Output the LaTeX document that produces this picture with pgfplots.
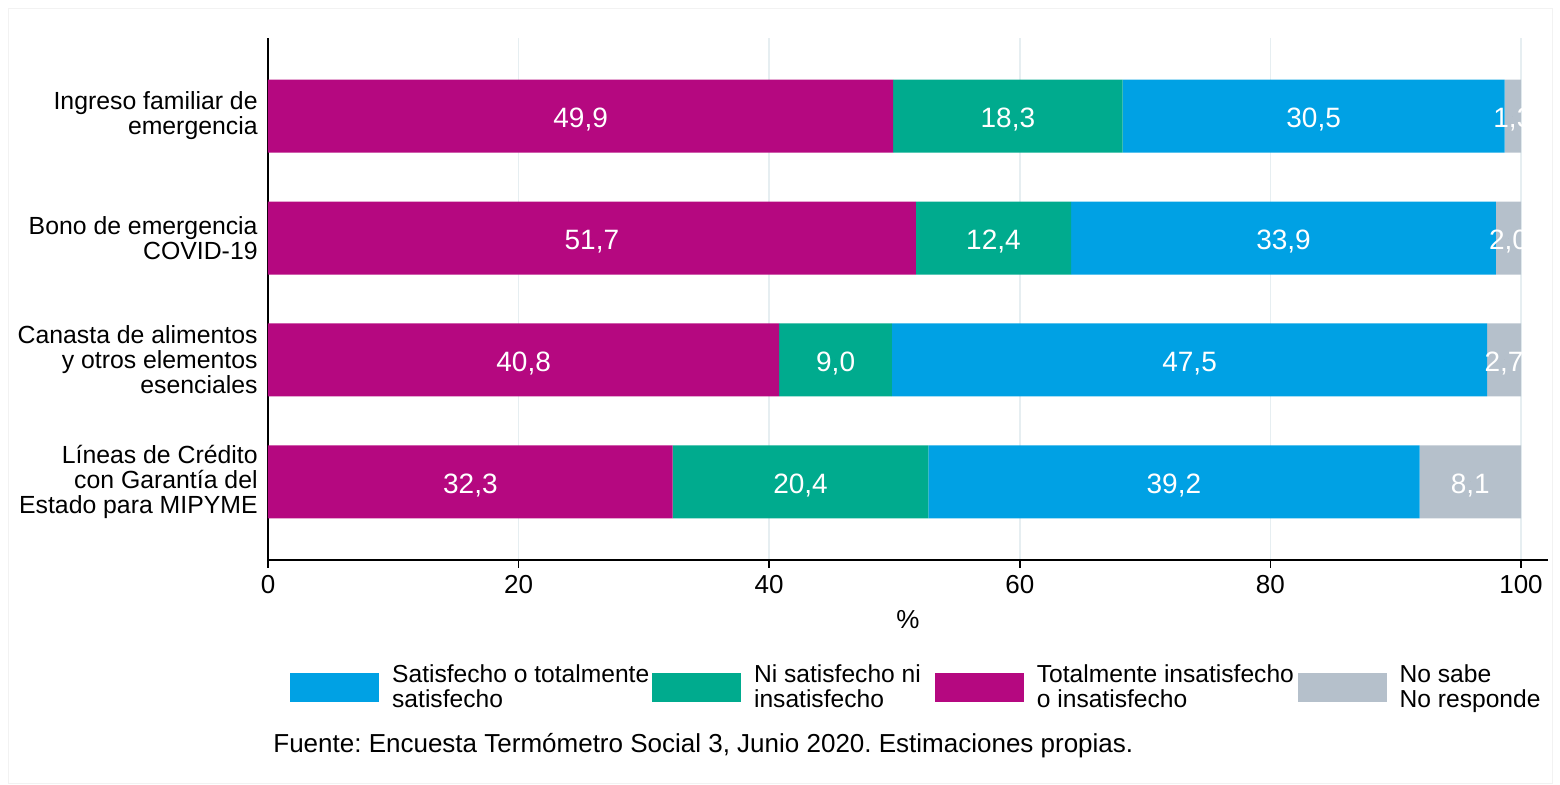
\documentclass[border=0pt]{standalone}
\usepackage{pgfplots}
\pgfplotsset{compat=1.18}
\usepackage{fontspec}
\setmainfont{Liberation Sans}

\definecolor{cmag}{RGB}{181,8,128}
\definecolor{cgreen}{RGB}{0,171,142}
\definecolor{cblue}{RGB}{0,161,228}
\definecolor{cgray}{RGB}{181,192,203}
\definecolor{gridc}{RGB}{230,238,241}

\pgfplotsset{
  frame/.style={
    width=626.5pt, height=261pt, scale only axis,
    xmin=0, xmax=100, ymin=-0.64, ymax=3.64,
    enlargelimits=false,
  },
}

\begin{document}
\frenchspacing
\begin{tikzpicture}
\begin{axis}[
  frame,
  xbar stacked, bar width=36.5pt,
  axis lines=left,
  axis line style={-, black, line width=0.8pt},
  x axis line style={shorten >=-13.5pt},
  xtick={0,20,...,100},
  tick align=outside,
  major tick length=4pt,
  tick style={black, line width=0.8pt},
  /pgf/number format/assume math mode=true,
  ytick={0,1,2,3},
  yticklabels={{Líneas de Crédito\\con Garantía del\\Estado para MIPYME},
               {Canasta de alimentos\\y otros elementos\\esenciales},
               {Bono de emergencia\\COVID-19},
               {Ingreso familiar de\\emergencia}},
  y tick style={draw=none},
  y tick label style={align=right, inner sep=0pt, xshift=-1pt,
    font=\fontsize{12.4}{12.5}\selectfont},
  x tick label style={font=\fontsize{13}{15}\selectfont},
  xmajorgrids, grid style={color=gridc, line width=0.8pt},
  xlabel={\%},
  xlabel style={at={(axis description cs:0.5108,0)}, anchor=center, yshift=-30pt,
    font=\fontsize{13}{15}\selectfont},
  legend columns=4,
  legend style={at={(0,0)}, anchor=north west, xshift=11pt, yshift=-50pt,
    draw=none, fill=none, inner sep=0pt,
    font=\fontsize{12.3}{12.5}\selectfont,
    cells={align=left},
    /tikz/every odd column/.style={column sep=4.5pt},
    /tikz/every even column/.style={column sep=-0.5pt}},
  legend cell align=left,
]
  \addlegendimage{legend image code/.code={\fill[cblue] (0pt,-7pt) rectangle (44pt,7pt);}}
  \addlegendentry{Satisfecho o totalmente\\satisfecho}
  \addlegendimage{legend image code/.code={\fill[cgreen] (0pt,-7pt) rectangle (44pt,7pt);}}
  \addlegendentry{\makebox[89pt][l]{Ni satisfecho ni}\\insatisfecho}
  \addlegendimage{legend image code/.code={\fill[cmag] (0pt,-7pt) rectangle (44pt,7pt);}}
  \addlegendentry{\makebox[129pt][l]{Totalmente insatisfecho}\\o insatisfecho}
  \addlegendimage{legend image code/.code={\fill[cgray] (0pt,-7pt) rectangle (44pt,7pt);}}
  \addlegendentry{No sabe\\No responde}

  % Totalmente insatisfecho o insatisfecho
  \addplot[fill=cmag, draw=none, forget plot] coordinates {(32.3,0) (40.8,1) (51.7,2) (49.9,3)};
  % Ni satisfecho ni insatisfecho
  \addplot[fill=cgreen, draw=none, forget plot] coordinates {(20.4,0) (9.0,1) (12.4,2) (18.3,3)};
  % Satisfecho o totalmente satisfecho
  \addplot[fill=cblue, draw=none, forget plot] coordinates {(39.2,0) (47.5,1) (33.9,2) (30.5,3)};
  % No sabe / No responde
  \addplot[fill=cgray, draw=none, forget plot] coordinates {(8.1,0) (2.7,1) (2.0,2) (1.3,3)};

  \coordinate (O) at (rel axis cs:0,0);
\end{axis}

% value labels at segment midpoints, same frame, not stacked
\begin{axis}[
  frame,
  axis lines=none, ticks=none,
  clip marker paths=true,
]
  \addplot[only marks, mark=*, mark size=0pt, mark options={draw=none, fill=none},
    nodes near coords, point meta=explicit symbolic,
    every node near coord/.style={anchor=base, yshift=-5.9pt, text=white, inner sep=0pt,
      font=\fontsize{14}{16}\selectfont}]
    table[meta=m, row sep=\\] {
      x y m \\
      24.95 3 49,9 \\ 59.05 3 18,3 \\ 83.45 3 30,5 \\ 99.35 3 1,3 \\
      25.85 2 51,7 \\ 57.90 2 12,4 \\ 81.05 2 33,9 \\ 99.00 2 2,0 \\
      20.40 1 40,8 \\ 45.30 1 9,0 \\ 73.55 1 47,5 \\ 98.65 1 2,7 \\
      16.15 0 32,3 \\ 42.50 0 20,4 \\ 72.30 0 39,2 \\ 95.95 0 8,1 \\
    };
\end{axis}

\draw[gray!10] ([shift={(-130pt,-111.5pt)}]O) rectangle ([shift={(642pt,276pt)}]O);
\node[anchor=west, inner sep=0pt, font=\fontsize{13}{15}\selectfont]
  at ([shift={(2.5pt,-93pt)}]O) {Fuente: Encuesta Termómetro Social 3, Junio 2020. Estimaciones propias.};
\useasboundingbox ([shift={(-134pt,-112.5pt)}]O) rectangle ([shift={(646pt,280pt)}]O);
\end{tikzpicture}
\end{document}
